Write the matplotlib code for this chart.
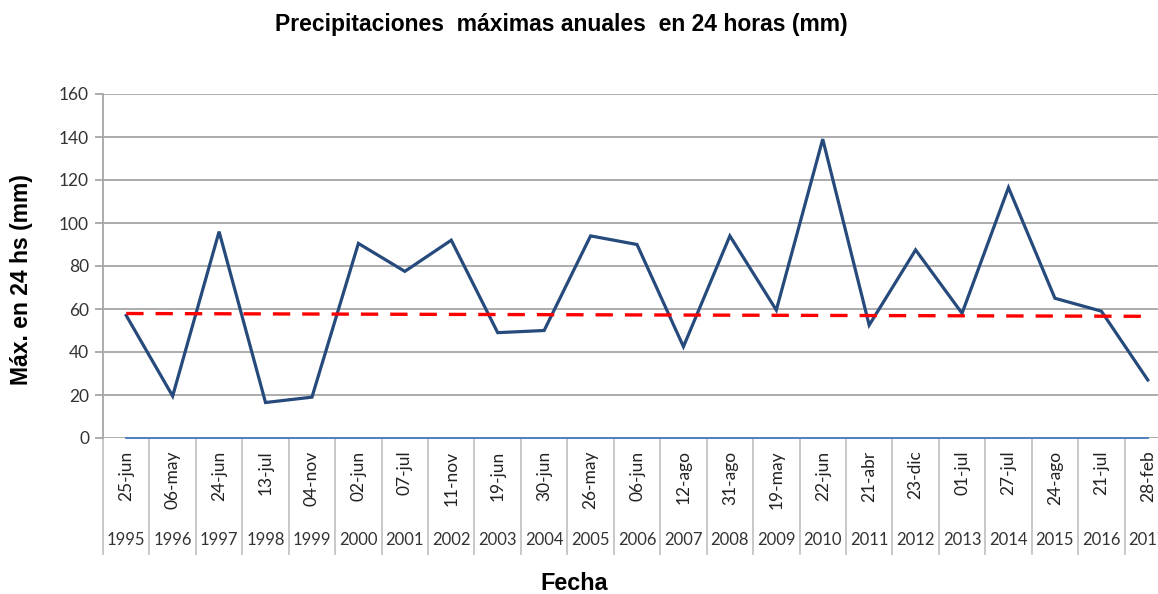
import numpy as np
import matplotlib
matplotlib.use('Agg')
import matplotlib.pyplot as plt
import matplotlib.transforms as mtransforms

# datos
years = ['1995', '1996', '1997', '1998', '1999', '2000', '2001', '2002', '2003', '2004', '2005', '2006',
         '2007', '2008', '2009', '2010', '2011', '2012', '2013', '2014', '2015', '2016', '2017']
dates = ['25-jun', '06-may', '24-jun', '13-jul', '04-nov', '02-jun', '07-jul', '11-nov', '19-jun', '30-jun',
         '26-may', '06-jun', '12-ago', '31-ago', '19-may', '22-jun', '21-abr', '23-dic', '01-jul', '27-jul',
         '24-ago', '21-jul', '28-feb']
pmax = [57, 19.5, 96, 16.5, 19, 90.5, 77.5, 92, 49, 50, 94, 90,
        42.5, 94, 59.5, 139, 52.5, 87.5, 58, 116.5, 65, 59, 27]
trend_ends = [57.9, 56.6]
yticks = [0, 20, 40, 60, 80, 100, 120, 140, 160]

W, H = 1158, 594
fig = plt.figure(figsize=(W / 100, H / 100), dpi=100)
ax = fig.add_axes([103 / W, (H - 438) / H, (1171 - 103) / W, (438 - 94) / H])

x = np.arange(len(years))
ax.set_xlim(-0.5, len(years) - 0.5)
ax.set_ylim(0, 160)

# rejilla
ax.set_yticks(yticks)
ax.yaxis.grid(True, color='#a6a6a6', lw=1.3)
ax.set_axisbelow(True)
for s in ['top', 'right', 'bottom']:
    ax.spines[s].set_visible(False)
ax.spines['left'].set_color('#a6a6a6')
ax.spines['left'].set_linewidth(1.3)
ax.tick_params(axis='y', length=6, width=1.3, color='#a6a6a6', labelsize=12.5, pad=4,
               labelcolor='#333333')
for lab in ax.get_yticklabels():
    lab.set_family('Lato')

# linea base azul
ax.plot(x, np.zeros(len(x)), color='#4f81bd', lw=1.4, clip_on=False, zorder=3)

# serie
ax.plot(x, pmax, color='#254a7b', lw=2.3, solid_joinstyle='miter', zorder=4)

# tendencia
ax.plot([x[0], x[-1]], trend_ends, color='#ff0000', lw=2.4, dashes=(5.2, 3.6), zorder=5)

# eje de categorias con dos niveles
ax.set_xticks(x)
ax.set_xticklabels(dates, rotation=90, fontsize=12.5, family='Lato', color='#222222', va='top')
ax.tick_params(axis='x', which='major', length=0, pad=9)
ax.set_xticks(np.arange(len(years) + 1) - 0.5, minor=True)
ax.tick_params(axis='x', which='minor', length=84, width=1.2, color='#bfbfbf', direction='out')

trans = mtransforms.blended_transform_factory(ax.transData, ax.transAxes)
for xi, yr in zip(x, years):
    ax.text(xi, -(540 - 438) / 344, yr, transform=trans, ha='center', va='center',
            fontsize=12, family='Lato', color='#333333', clip_on=False)

fig.text(561 / W, 1 - 25 / H, 'Precipitaciones  máximas anuales  en 24 horas (mm)',
         ha='center', va='center', fontsize=16.5, fontweight='bold', family='Liberation Sans')
fig.text(22 / W, 1 - 280 / H, 'Máx. en 24 hs (mm)', rotation=90, ha='center', va='center',
         fontsize=16.5, fontweight='bold', family='Liberation Sans')
fig.text(574 / W, 1 - 584 / H, 'Fecha', ha='center', va='center',
         fontsize=16.8, fontweight='bold', family='Liberation Sans')

fig.savefig('out.png', dpi=100)
